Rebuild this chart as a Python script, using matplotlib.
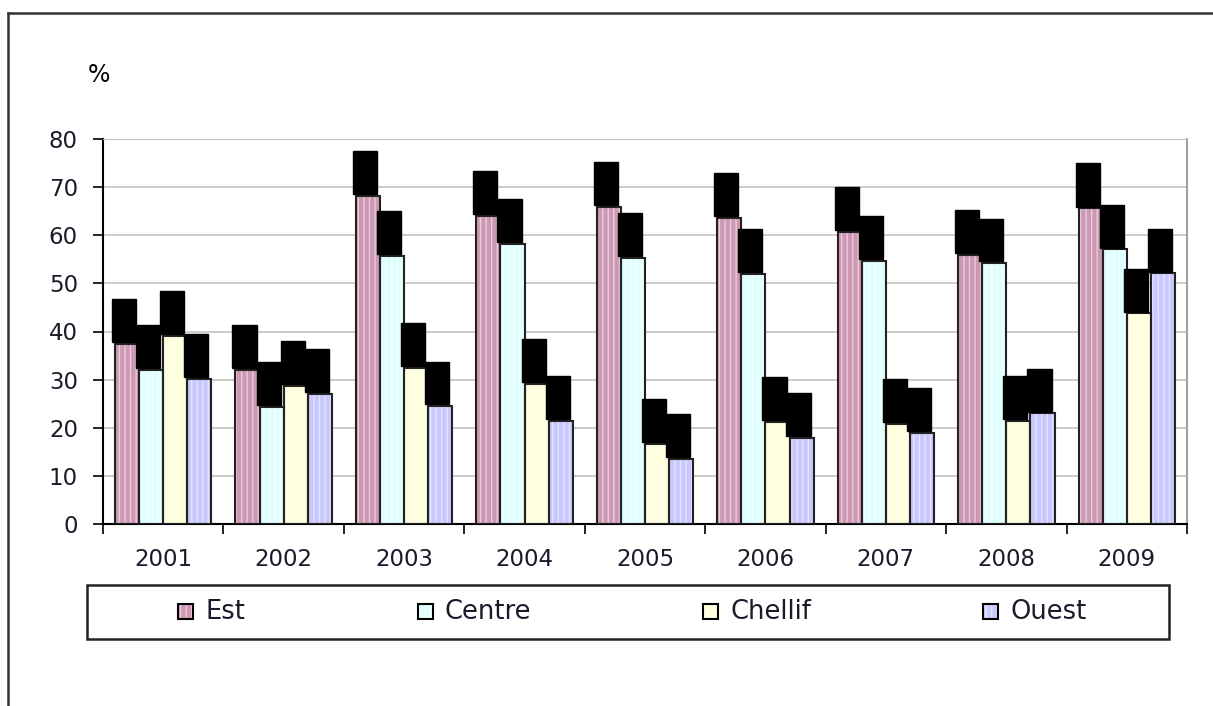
import matplotlib.pyplot as plt
import matplotlib
import numpy as np
from matplotlib.lines import Line2D
from matplotlib.patches import Rectangle

matplotlib.rcParams['font.family'] = ['DejaVu Sans']

# taux par région et par année (%)
annees = ['2001', '2002', '2003', '2004', '2005', '2006', '2007', '2008', '2009']
est = [37.4, 32.0, 68.2, 64.0, 65.9, 63.6, 60.7, 55.9, 65.6]
centre = [32.0, 24.4, 55.7, 58.2, 55.3, 52.0, 54.7, 54.2, 57.1]
chellif = [39.1, 28.7, 32.4, 29.1, 16.6, 21.2, 20.8, 21.5, 43.8]
ouest = [30.2, 27.0, 24.5, 21.4, 13.5, 17.9, 18.9, 23.0, 52.1]

series = [
    ('Est', est, '#CC98B4', '#EBCBDC'),
    ('Centre', centre, '#DFFFFF', '#F4FFFF'),
    ('Chellif', chellif, '#FFFFDC', '#FFFFF0'),
    ('Ouest', ouest, '#C8C8FF', '#E4E4FF'),
]

W, H = 1213, 706
fig = plt.figure(figsize=(W / 100, H / 100), dpi=100)
ax = fig.add_axes([103 / W, 1 - 524 / H, (1187 - 103) / W, (524 - 139) / H])

x = np.arange(len(annees))
w = 0.2
for i, (nom, vals, fc, hc) in enumerate(series):
    pos = x - 0.3 + i * w
    # fond hachuré (rayures verticales claires)
    ax.bar(pos, vals, w, color=fc, edgecolor=hc, hatch='|||', linewidth=0, zorder=2)
    ax.bar(pos, vals, w, fill=False, edgecolor='#222222', linewidth=1.5, zorder=3)
    # étiquettes de valeur (masquées en noir)
    for p, v in zip(pos, vals):
        ax.annotate(f'{v:.1f}', (p - 0.025, v), xytext=(0, 4.5), textcoords='offset points',
                    ha='center', va='bottom', rotation=90, fontsize=11, color='black',
                    bbox=dict(boxstyle='square,pad=0.3', fc='black', ec='black'), zorder=4)

ax.set_xlim(-0.5, len(annees) - 0.5)
ax.set_ylim(0, 80)
ax.set_yticks(range(0, 81, 10))
ax.yaxis.grid(True, color='#C8C8C8', linewidth=1.3, zorder=0)
ax.set_axisbelow(True)

ax.set_xticks(x)
ax.set_xticklabels(annees)
ax.set_xticks(np.arange(-0.5, len(annees)), minor=True)
ax.tick_params(axis='x', which='major', length=0, pad=17, labelsize=16.5, labelcolor='#1a1a2a')
ax.tick_params(axis='x', which='minor', length=7, width=1.2, direction='out')
ax.tick_params(axis='y', length=7, width=1.2, direction='out', pad=11, labelsize=16.5,
               labelcolor='#1a1a2a')

for s in ('left', 'bottom'):
    ax.spines[s].set_color('black')
    ax.spines[s].set_linewidth(1.5)
ax.spines['right'].set_color('#A0A0A0')
ax.spines['right'].set_linewidth(1.5)
ax.spines['top'].set_color('#C0C0C0')

# légende
fig.add_artist(Rectangle((87 / W, 1 - 639 / H), (1169 - 87) / W, 54 / H, transform=fig.transFigure,
                         fill=False, edgecolor='#222222', linewidth=1.8))
leg_x = [178, 418, 703, 983]
ym = 1 - 612 / H
for (nom, vals, fc, hc), lx in zip(series, leg_x):
    box = dict(xy=(lx / W, ym - 7 / H), width=15 / W, height=15 / H, transform=fig.transFigure)
    fig.add_artist(Rectangle(**box, facecolor=fc, edgecolor=hc, hatch='|||', linewidth=0))
    fig.add_artist(Rectangle(**box, fill=False, edgecolor='black', linewidth=1.5))
    fig.text((lx + 27) / W, ym, nom, fontsize=18.5, va='center', ha='left', color='#1a1a2a')

fig.text(88 / W, 1 - 82 / H, '%', fontsize=17)

# cadre extérieur
fig.add_artist(Line2D([8 / W, 8 / W], [0, 1 - 13 / H], color='#333333', linewidth=1.8))
fig.add_artist(Line2D([8 / W, 1.0], [1 - 13 / H, 1 - 13 / H], color='#333333', linewidth=1.8))

fig.savefig('out.png', dpi=100)
